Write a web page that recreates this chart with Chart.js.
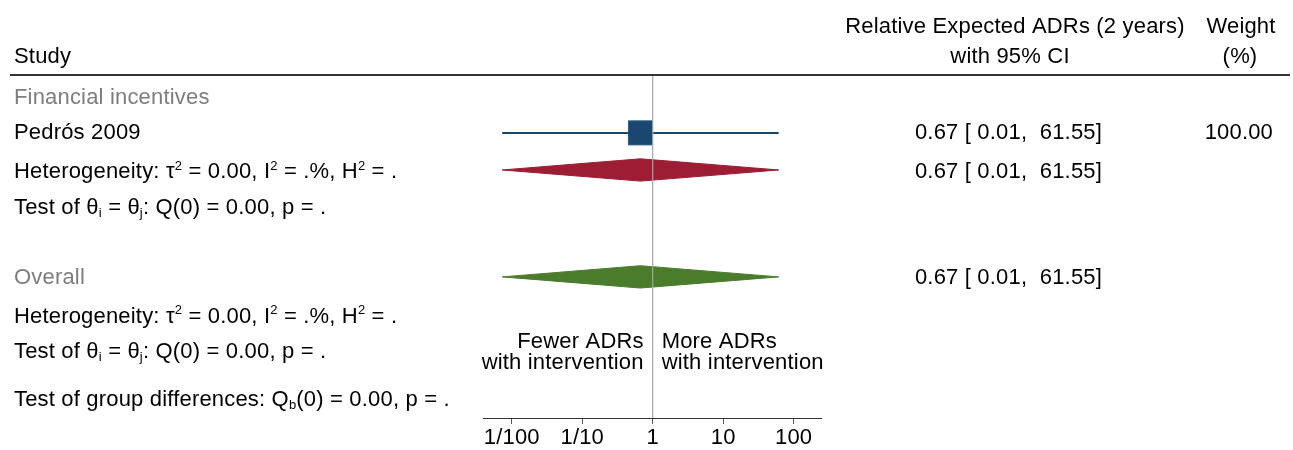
<!DOCTYPE html>
<html>
<head>
<meta charset="utf-8">
<script src="https://cdn.jsdelivr.net/npm/chart.js@4.4.1/dist/chart.umd.min.js"></script>
<style>
  html, body { margin: 0; padding: 0; background: #fff; }
  canvas { display: block; }
</style>
</head>
<body>
<canvas id="forest" width="1293" height="450"></canvas>
<script>
// Study-level results (relative expected ADRs, ratio scale)
const studies = ['Pedrós 2009'];
const estimates = [0.67];
const ciLower = [0.0073];
const ciUpper = [61.55];
const weights = [100.00];

// Pooled results: subgroup "Financial incentives" and overall
const subgroupEst = [0.67];
const subgroupLower = [0.0073];
const subgroupUpper = [61.55];
const overallEst = [0.67];
const overallLower = [0.0073];
const overallUpper = [61.55];

// x axis ticks
const tickValues = [0.01, 0.1, 1, 10, 100];
const tickLabels = ['1/100', '1/10', '1', '10', '100'];

// row layout (y units, 0 = header rule, 9.5 = x axis)
const rowY = {
    group: 0.61,
    study: 1.58,
    subHet: 2.67,
    subDiamond: 2.61,
    subTest: 3.67,
    overall: 5.61,
    overallDiamond: 5.58,
    allHet: 6.69,
    allTest: 7.67,
    groupDiff: 9.0,
    note1: 7.39,
    note2: 7.97
};
const DIAMOND_HALF = 0.31;
const FONT = '"Liberation Sans", Arial, Helvetica, sans-serif';
const FS = 22;
const SPACING = '0.18px';

const NAVY = '#1a476f';
const MAROON = '#9c1d34';
const GREEN = '#4a7c2c';

function fmt(v) {
    return v.toFixed(2);
}

function ciText(est, lo, hi) {
    return fmt(est) + ' [ ' + fmt(lo) + ',  ' + fmt(hi) + ']';
}

function diamond(lo, est, hi, y) {
    return [
        { x: lo, y: y },
        { x: est, y: y - DIAMOND_HALF },
        { x: hi, y: y },
        { x: est, y: y + DIAMOND_HALF },
        { x: lo, y: y }
    ];
}

// draws text with super/subscript pieces, left aligned
function drawRuns(ctx, x, y, runs, color) {
    let cx = x;
    ctx.fillStyle = color || '#000';
    ctx.textAlign = 'left';
    ctx.textBaseline = 'middle';
    runs.forEach(r => {
        const small = r.sup || r.sub;
        const size = small ? Math.round(FS * 0.6) : FS;
        ctx.font = size + 'px ' + FONT;
        let dy = 0;
        if (r.sup) dy = -FS * 0.27;
        if (r.sub) dy = FS * 0.24;
        ctx.fillText(r.t, cx, y + dy);
        cx += ctx.measureText(r.t).width;
    });
}

function text(ctx, str, x, y, align, color) {
    ctx.font = FS + 'px ' + FONT;
    ctx.fillStyle = color || '#000';
    ctx.textAlign = align || 'left';
    ctx.textBaseline = 'middle';
    ctx.fillText(str, x, y);
}

const hetRuns = [
    { t: 'Heterogeneity: τ' }, { t: '2', sup: true },
    { t: ' = 0.00, I' }, { t: '2', sup: true },
    { t: ' = .%, H' }, { t: '2', sup: true },
    { t: ' = .' }
];
const testRuns = [
    { t: 'Test of θ' }, { t: 'i', sub: true },
    { t: ' = θ' }, { t: 'j', sub: true },
    { t: ': Q(0) = 0.00, p = .' }
];
const groupRuns = [
    { t: 'Test of group differences: Q' }, { t: 'b', sub: true },
    { t: '(0) = 0.00, p = .' }
];

const tablePlugin = {
    id: 'forestTable',
    beforeDraw(chart) {
        chart.ctx.letterSpacing = SPACING;
    },
    afterDraw(chart) {
        const ctx = chart.ctx;
        const y = v => chart.scales.y.getPixelForValue(v);
        ctx.save();
        ctx.letterSpacing = SPACING;

        // header
        text(ctx, 'Study', 14, 57);
        text(ctx, 'Relative Expected ADRs (2 years)', 1015, 27, 'center');
        text(ctx, 'with 95% CI', 1010, 57, 'center');
        text(ctx, 'Weight', 1241, 27, 'center');
        text(ctx, '(%)', 1240, 57, 'center');

        ctx.strokeStyle = '#333';
        ctx.lineWidth = 2;
        ctx.beginPath();
        ctx.moveTo(10, 75);
        ctx.lineTo(1290, 75);
        ctx.stroke();

        // subgroup block
        text(ctx, 'Financial incentives', 14, y(rowY.group), 'left', '#7d7d7d');
        studies.forEach((s, i) => {
            text(ctx, s, 14, y(rowY.study + i));
            text(ctx, ciText(estimates[i], ciLower[i], ciUpper[i]), 1102, y(rowY.study + i), 'right');
            text(ctx, fmt(weights[i]), 1273, y(rowY.study + i), 'right');
        });
        drawRuns(ctx, 14, y(rowY.subHet), hetRuns);
        text(ctx, ciText(subgroupEst[0], subgroupLower[0], subgroupUpper[0]), 1102, y(rowY.subHet), 'right');
        drawRuns(ctx, 14, y(rowY.subTest), testRuns);

        // overall block
        text(ctx, 'Overall', 14, y(rowY.overall), 'left', '#7d7d7d');
        text(ctx, ciText(overallEst[0], overallLower[0], overallUpper[0]), 1102, y(rowY.overall), 'right');
        drawRuns(ctx, 14, y(rowY.allHet), hetRuns);
        drawRuns(ctx, 14, y(rowY.allTest), testRuns);
        drawRuns(ctx, 14, y(rowY.groupDiff), groupRuns);

        // direction notes either side of the null line
        const x1 = chart.scales.x.getPixelForValue(1);
        text(ctx, 'Fewer ADRs', x1 - 9, y(rowY.note1), 'right');
        text(ctx, 'with intervention', x1 - 9, y(rowY.note2), 'right');
        text(ctx, 'More ADRs', x1 + 9, y(rowY.note1), 'left');
        text(ctx, 'with intervention', x1 + 9, y(rowY.note2), 'left');

        ctx.restore();
    }
};

const ctx = document.getElementById('forest').getContext('2d');
new Chart(ctx, {
    type: 'scatter',
    data: {
        datasets: [
            {
                // null line
                data: [{ x: 1, y: 0 }, { x: 1, y: 9.5 }],
                showLine: true,
                borderColor: '#a6a6a6',
                borderWidth: 1.2,
                pointRadius: 0
            },
            {
                data: [{ x: ciLower[0], y: rowY.study }, { x: ciUpper[0], y: rowY.study }],
                showLine: true,
                borderColor: NAVY,
                borderWidth: 2,
                pointRadius: 0
            },
            {
                data: estimates.map((e, i) => ({ x: e, y: rowY.study + i })),
                pointStyle: 'rect',
                pointRadius: 17,
                backgroundColor: NAVY,
                borderColor: '#2d5a85',
                borderWidth: 1
            },
            {
                data: diamond(subgroupLower[0], subgroupEst[0], subgroupUpper[0], rowY.subDiamond),
                showLine: true,
                fill: 'shape',
                backgroundColor: MAROON,
                borderColor: MAROON,
                borderWidth: 1,
                pointRadius: 0
            },
            {
                data: diamond(overallLower[0], overallEst[0], overallUpper[0], rowY.overallDiamond),
                showLine: true,
                fill: 'shape',
                backgroundColor: GREEN,
                borderColor: GREEN,
                borderWidth: 1,
                pointRadius: 0
            }
        ]
    },
    options: {
        responsive: false,
        animation: false,
        events: [],
        layout: { padding: { left: 483, right: 472, top: 76, bottom: 0 } },
        plugins: {
            legend: { display: false },
            tooltip: { enabled: false }
        },
        scales: {
            x: {
                type: 'logarithmic',
                min: 0.0039,
                max: 245,
                afterBuildTicks: scale => {
                    scale.ticks = tickValues.map(v => ({ value: v, major: true }));
                },
                afterFit: scale => {
                    scale.height = 32;
                },
                ticks: {
                    autoSkip: false,
                    maxRotation: 0,
                    padding: 3,
                    color: '#000',
                    font: { family: FONT, size: FS, lineHeight: 1 },
                    callback: (val, idx) => tickLabels[idx]
                },
                grid: {
                    drawOnChartArea: false,
                    drawTicks: true,
                    tickLength: 6,
                    color: '#555'
                },
                border: { display: true, color: '#333', width: 1 }
            },
            y: {
                type: 'linear',
                display: false,
                min: 0,
                max: 9.5,
                reverse: true
            }
        }
    },
    plugins: [tablePlugin]
});
</script>
</body>
</html>
